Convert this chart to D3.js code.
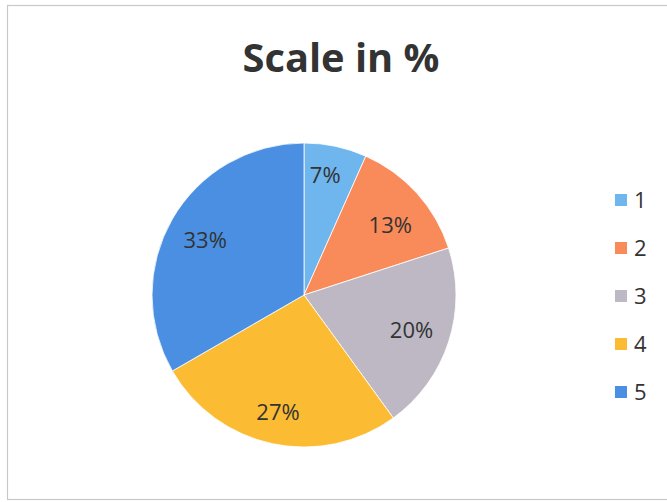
<!DOCTYPE html>
<html>
<head>
<meta charset="utf-8">
<script src="https://cdn.jsdelivr.net/npm/d3@7"></script>
<style>
  html, body { margin: 0; padding: 0; background: #fff; }
  svg { display: block; }
</style>
</head>
<body>
<div id="chart"></div>
<script>
// chart data
const categories = ['1', '2', '3', '4', '5'];
const values = [1, 2, 3, 4, 5];
const colors = ['#6fb5ee', '#f98a5a', '#bdb8c3', '#fbbb33', '#4a8fe2'];
const chartTitle = 'Scale in %';

document.addEventListener('DOMContentLoaded', () => {
    const width = 667;
    const height = 502;

    const svg = d3.select('#chart').append('svg')
        .attr('width', width)
        .attr('height', height);

    // light frame round the chart
    svg.append('rect')
        .attr('x', 7.5).attr('y', 5.5)
        .attr('width', width + 10).attr('height', 494)
        .attr('fill', '#fff')
        .attr('stroke', '#c8c8c8')
        .attr('stroke-width', 1.2);

    svg.append('text')
        .attr('x', 341).attr('y', 72)
        .attr('text-anchor', 'middle')
        .attr('font-family', 'Open Sans, Noto Sans, sans-serif')
        .attr('font-weight', 700)
        .attr('font-size', 40)
        .attr('fill', '#333')
        .attr('textLength', 197)
        .attr('lengthAdjust', 'spacingAndGlyphs')
        .text(chartTitle);

    const cx = 304, cy = 295, radius = 152;
    const total = d3.sum(values);

    const pie = d3.pie().sort(null).value((d) => d);
    const arcs = pie(values);
    const arc = d3.arc().innerRadius(0).outerRadius(radius);

    const pieGroup = svg.append('g').attr('transform', `translate(${cx},${cy})`);

    pieGroup.selectAll('path')
        .data(arcs)
        .enter()
        .append('path')
        .attr('d', arc)
        .attr('fill', (d, i) => colors[i])
        .attr('stroke', '#fff')
        .attr('stroke-width', 0.8);

    // best-fit style label placement (radius / small angle nudge per slice)
    const labelRadius = [122, 111, 113, 120, 113];
    const labelNudge = [-2, 3, 0, 0.5, -1];
    pieGroup.selectAll('text.label')
        .data(arcs)
        .enter()
        .append('text')
        .attr('class', 'label')
        .attr('transform', (d, i) => {
            const a = (d.startAngle + d.endAngle) / 2 + labelNudge[i] * Math.PI / 180;
            const r = labelRadius[i];
            return `translate(${r * Math.sin(a)},${-r * Math.cos(a)})`;
        })
        .attr('text-anchor', 'middle')
        .attr('dy', '0.35em')
        .attr('font-family', 'Open Sans, Noto Sans, sans-serif')
        .attr('font-size', 22)
        .attr('fill', '#333')
        .text((d) => `${Math.round(d.value / total * 100)}%`);

    // legend
    const legendY = d3.scalePoint().domain(categories).range([200, 392]);
    const legend = svg.append('g');
    const items = legend.selectAll('g')
        .data(categories)
        .enter()
        .append('g')
        .attr('transform', (d) => `translate(615,${legendY(d)})`);

    items.append('rect')
        .attr('x', 0).attr('y', -6)
        .attr('width', 12).attr('height', 12)
        .attr('fill', (d, i) => colors[i]);

    items.append('text')
        .attr('x', 19)
        .attr('dy', '0.36em')
        .attr('font-family', 'Open Sans, Noto Sans, sans-serif')
        .attr('font-size', 22)
        .attr('fill', '#333')
        .text((d) => d);
});
</script>
</body>
</html>
